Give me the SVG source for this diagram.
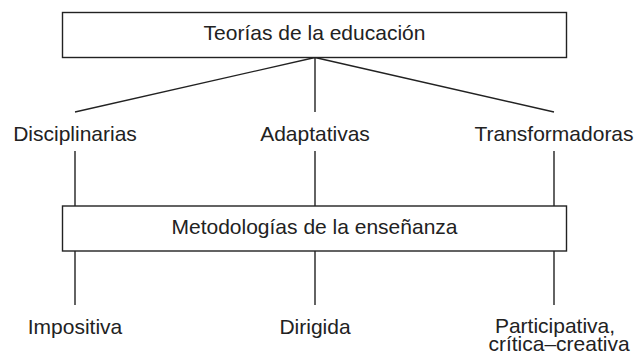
<svg xmlns="http://www.w3.org/2000/svg" width="637" height="354" viewBox="0 0 637 354">
<style>
.box{fill:#fff;stroke:#222;stroke-width:1.4}
.ln{stroke:#222;stroke-width:1.4;fill:none}
text{font-family:"Liberation Sans",Arial,sans-serif;font-size:21px;fill:#222;text-anchor:middle}
</style>
<rect width="637" height="354" fill="#fff"/>
<g id="connectors">
<line class="ln" x1="315" y1="57.5" x2="75" y2="112"/>
<line class="ln" x1="315" y1="57.5" x2="315" y2="112"/>
<line class="ln" x1="315" y1="57.5" x2="554" y2="112"/>
<line class="ln" x1="75" y1="151" x2="75" y2="206"/>
<line class="ln" x1="315" y1="151" x2="315" y2="206"/>
<line class="ln" x1="554" y1="151" x2="554" y2="206"/>
<line class="ln" x1="75" y1="251" x2="75" y2="305"/>
<line class="ln" x1="315" y1="251" x2="315" y2="305"/>
<line class="ln" x1="554" y1="251" x2="554" y2="305"/>
</g>
<g id="teorias">
<rect class="box" x="62.5" y="12.5" width="504" height="45"/>
<text x="314.5" y="39.5">Teorías de la educación</text>
</g>
<g id="disciplinarias"><text x="75" y="141">Disciplinarias</text></g>
<g id="adaptativas"><text x="315" y="141">Adaptativas</text></g>
<g id="transformadoras"><text x="554" y="141">Transformadoras</text></g>
<g id="metodologias">
<rect class="box" x="62.5" y="206" width="504" height="45"/>
<text x="314.5" y="234">Metodologías de la enseñanza</text>
</g>
<g id="impositiva"><text x="75" y="333.5">Impositiva</text></g>
<g id="dirigida"><text x="315" y="333.5">Dirigida</text></g>
<g id="participativa"><text x="556" y="333"><tspan x="555" y="333">Participativa,</tspan><tspan x="559" y="351">crítica–creativa</tspan></text></g>
</svg>
